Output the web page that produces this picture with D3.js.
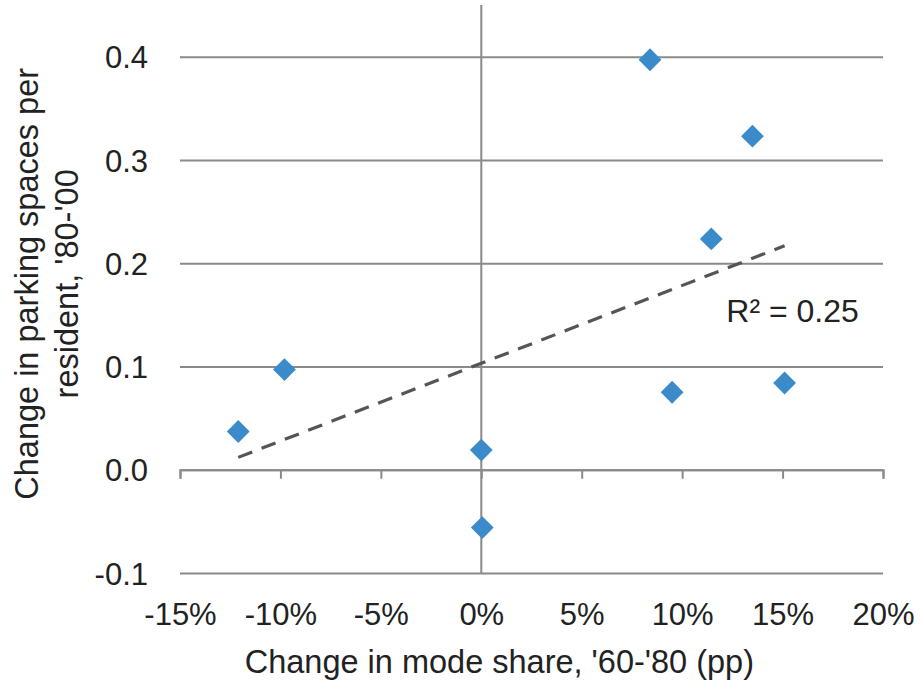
<!DOCTYPE html>
<html>
<head>
<meta charset="utf-8">
<script src="https://cdn.jsdelivr.net/npm/d3@7"></script>
<style>
  body { margin: 0; background: #fff; }
  text { font-family: "Liberation Sans", Arial, sans-serif; fill: #222; }
</style>
</head>
<body>
<div id="wrapper"></div>
<script>
// change in mode share '60-'80 (pp) vs change in parking spaces per resident '80-'00
const modeShareChange = [-12.1, -9.8, 0.0, 0.05, 8.4, 9.5, 11.45, 13.5, 15.1]
const parkingChange = [0.037, 0.097, 0.019, -0.056, 0.397, 0.075, 0.2235, 0.323, 0.084]
const xTicks = [-15, -10, -5, 0, 5, 10, 15, 20]
const yTicks = [-0.1, 0, 0.1, 0.2, 0.3, 0.4]
const xTitle = "Change in mode share, '60-'80 (pp)"
const yTitle = ["Change in parking spaces per", "resident, '80-'00"]

function drawScatter() {
  const data = modeShareChange.map((x, i) => ({x, y: parkingChange[i]}))
  const xAccessor = d => d.x
  const yAccessor = d => d.y

  const dimensions = {
    width: 922,
    height: 690,
    margin: {top: 5, right: 39, bottom: 117, left: 180},
  }
  dimensions.boundedWidth = dimensions.width
    - dimensions.margin.left - dimensions.margin.right
  dimensions.boundedHeight = dimensions.height
    - dimensions.margin.top - dimensions.margin.bottom

  const wrapper = d3.select("#wrapper")
    .append("svg")
    .attr("width", dimensions.width)
    .attr("height", dimensions.height)

  const bounds = wrapper.append("g")
    .attr("transform", `translate(${dimensions.margin.left},${dimensions.margin.top})`)

  const xScale = d3.scaleLinear()
    .domain([-15, 20])
    .range([0, dimensions.boundedWidth])
  const yScale = d3.scaleLinear()
    .domain([-0.1, 0.45])
    .range([dimensions.boundedHeight, 0])

  const gridColor = "#8a8a8a"

  // horizontal gridlines + value labels
  const yAxis = bounds.append("g")
    .call(d3.axisLeft(yScale)
      .tickValues(yTicks)
      .tickSize(-dimensions.boundedWidth)
      .tickPadding(32)
      .tickFormat(d => d.toFixed(1)))
  yAxis.select(".domain").remove()
  yAxis.selectAll(".tick line")
    .attr("stroke", gridColor)
    .attr("stroke-width", 2)
  yAxis.selectAll(".tick text")
    .attr("font-size", 31)
    .attr("fill", "#222")
    .attr("dy", "0.36em")

  // x axis line through zero with tick marks
  const xAxis = bounds.append("g")
    .attr("transform", `translate(0,${yScale(0)})`)
    .call(d3.axisBottom(xScale)
      .tickValues(xTicks)
      .tickSize(9)
      .tickFormat(""))
  xAxis.selectAll("path, line")
    .attr("stroke", gridColor)
    .attr("stroke-width", 2)

  // x labels sit at the bottom of the plot
  const xLabels = bounds.append("g")
    .attr("transform", `translate(0,${dimensions.boundedHeight})`)
    .call(d3.axisBottom(xScale)
      .tickValues(xTicks)
      .tickSize(0)
      .tickPadding(30)
      .tickFormat(d => d + "%"))
  xLabels.select(".domain").remove()
  xLabels.selectAll(".tick text")
    .attr("font-size", 31)
    .attr("fill", "#222")

  // vertical axis at 0%
  bounds.append("line")
    .attr("x1", xScale(0))
    .attr("x2", xScale(0))
    .attr("y1", yScale(0.45))
    .attr("y2", yScale(-0.1))
    .attr("stroke", gridColor)
    .attr("stroke-width", 2)

  // linear trendline (least squares)
  const mx = d3.mean(data, xAccessor)
  const my = d3.mean(data, yAccessor)
  const sxy = d3.sum(data, d => (xAccessor(d) - mx) * (yAccessor(d) - my))
  const sxx = d3.sum(data, d => (xAccessor(d) - mx) ** 2)
  const syy = d3.sum(data, d => (yAccessor(d) - my) ** 2)
  const slope = sxy / sxx
  const intercept = my - slope * mx
  const r2 = sxy * sxy / (sxx * syy)
  const [xMin, xMax] = d3.extent(data, xAccessor)

  bounds.append("line")
    .attr("x1", xScale(xMin))
    .attr("y1", yScale(intercept + slope * xMin))
    .attr("x2", xScale(xMax))
    .attr("y2", yScale(intercept + slope * xMax))
    .attr("stroke", "#555")
    .attr("stroke-width", 3.2)
    .attr("stroke-dasharray", "15,10")

  bounds.append("text")
    .attr("x", xScale(12.2))
    .attr("y", yScale(0.143))
    .attr("font-size", 32)
    .text(`R² = ${r2.toFixed(2)}`)

  // points
  const diamond = d3.symbol(d3.symbolSquare, 260)
  bounds.selectAll("path.dot")
    .data(data)
    .join("path")
    .attr("class", "dot")
    .attr("d", diamond)
    .attr("transform", d => `translate(${xScale(xAccessor(d))},${yScale(yAccessor(d))}) rotate(45)`)
    .attr("fill", "#3b8bcb")

  // axis titles
  wrapper.append("text")
    .attr("x", dimensions.margin.left + xScale(0.9))
    .attr("y", 673)
    .attr("text-anchor", "middle")
    .attr("font-size", 32.5)
    .text(xTitle)

  const yTitleText = wrapper.append("text")
    .attr("transform", `translate(38,${dimensions.margin.top + yScale(0.18)}) rotate(-90)`)
    .attr("text-anchor", "middle")
    .attr("font-size", 32.5)
  yTitleText.selectAll("tspan")
    .data(yTitle)
    .join("tspan")
    .attr("x", 0)
    .attr("y", (d, i) => i * 40)
    .text(d => d)
}

drawScatter()
</script>
</body>
</html>
